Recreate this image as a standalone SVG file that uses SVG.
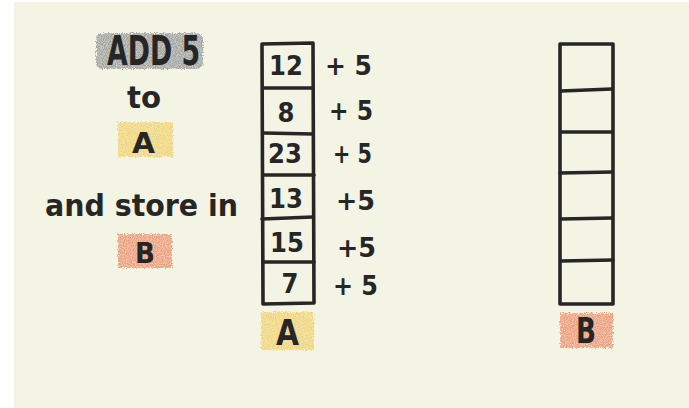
<svg xmlns="http://www.w3.org/2000/svg" width="689" height="408" viewBox="0 0 689 408">
  <defs>
    <filter id="crayon" x="-10%" y="-10%" width="120%" height="120%">
      <feTurbulence type="fractalNoise" baseFrequency="0.9" numOctaves="2" seed="3" result="n"/>
      <feDisplacementMap in="SourceGraphic" in2="n" scale="5" xChannelSelector="R" yChannelSelector="G" result="d"/>
      <feColorMatrix in="n" type="matrix" values="0 0 0 0 1  0 0 0 0 1  0 0 0 0 1  0 0 0 -0.9 0.6" result="speck"/>
      <feComposite in="speck" in2="d" operator="in" result="s2"/>
      <feMerge><feMergeNode in="d"/><feMergeNode in="s2"/></feMerge>
    </filter>
  </defs>
  <style>
    .ink { fill: none; stroke: #262626; stroke-width: 3.6; stroke-linecap: round; stroke-linejoin: round; }
    .t { font-family: "DejaVu Sans Condensed", "DejaVu Sans", sans-serif; font-weight: bold; fill: #262626; }
    .num { font-size: 27px; text-anchor: middle; }
    .plus { font-size: 26px; }
    .hl-gray { fill: #a3a39e; }
    .hl-yellow { fill: #f0d672; }
    .hl-orange { fill: #ec9d74; }
  </style>

  <rect x="14" y="2" width="675" height="406" fill="#f3f4e4"/>

  <g id="instruction">
    <rect class="hl-gray" x="96" y="33" width="107" height="36" rx="6" filter="url(#crayon)"/>
    <text class="t" x="107" y="65" font-size="40" textLength="93" lengthAdjust="spacingAndGlyphs">ADD 5</text>
    <text class="t" x="127" y="108" font-size="30" textLength="34" lengthAdjust="spacingAndGlyphs">to</text>
    <rect class="hl-yellow" x="118" y="122" width="55" height="35" filter="url(#crayon)"/>
    <text class="t" x="132" y="153" font-size="29" textLength="23" lengthAdjust="spacingAndGlyphs">A</text>
    <text class="t" x="45" y="216" font-size="31" textLength="193" lengthAdjust="spacingAndGlyphs">and store in</text>
    <rect class="hl-orange" x="118" y="234" width="54" height="34" filter="url(#crayon)"/>
    <text class="t" x="135" y="263" font-size="29" textLength="20" lengthAdjust="spacingAndGlyphs">B</text>
  </g>

  <g id="array-a">
    <path class="ink" d="M262 44 L313 43 L314 303 L263 304 Z"/>
    <path class="ink" d="M263 88 L313 88"/>
    <path class="ink" d="M263 133 L313 134"/>
    <path class="ink" d="M263 175 L314 175"/>
    <path class="ink" d="M262 219 L313 217"/>
    <path class="ink" d="M263 262 L314 262"/>
    <text class="t num" x="286" y="75">12</text>
    <text class="t num" x="286" y="122">8</text>
    <text class="t num" x="285" y="163">23</text>
    <text class="t num" x="286" y="208">13</text>
    <text class="t num" x="287" y="252">15</text>
    <text class="t num" x="290" y="293">7</text>
  </g>

  <g id="ops">
    <text class="t plus" x="325" y="75" textLength="47" lengthAdjust="spacingAndGlyphs">+ 5</text>
    <text class="t plus" x="329" y="120" textLength="44" lengthAdjust="spacingAndGlyphs">+ 5</text>
    <text class="t plus" x="333" y="163" font-size="23" textLength="39" lengthAdjust="spacingAndGlyphs">+ 5</text>
    <text class="t plus" x="336" y="210" textLength="39" lengthAdjust="spacingAndGlyphs">+5</text>
    <text class="t plus" x="337" y="257" font-size="30" textLength="39" lengthAdjust="spacingAndGlyphs">+5</text>
    <text class="t plus" x="333" y="295" textLength="45" lengthAdjust="spacingAndGlyphs">+ 5</text>
  </g>

  <g id="label-a">
    <rect class="hl-yellow" x="261" y="312" width="53" height="38" filter="url(#crayon)"/>
    <text class="t" x="276" y="345" font-size="36" textLength="23" lengthAdjust="spacingAndGlyphs">A</text>
  </g>

  <g id="array-b">
    <path class="ink" d="M560 44 L613 44 L613 304 L560 304 Z"/>
    <path class="ink" d="M561 91 L612 89"/>
    <path class="ink" d="M561 132 L612 132"/>
    <path class="ink" d="M560 173 L612 172"/>
    <path class="ink" d="M561 219 L612 218"/>
    <path class="ink" d="M561 261 L613 260"/>
  </g>

  <g id="label-b">
    <rect class="hl-orange" x="560" y="313" width="53" height="35" filter="url(#crayon)"/>
    <text class="t" x="576" y="343" font-size="36" textLength="20" lengthAdjust="spacingAndGlyphs">B</text>
  </g>
</svg>
